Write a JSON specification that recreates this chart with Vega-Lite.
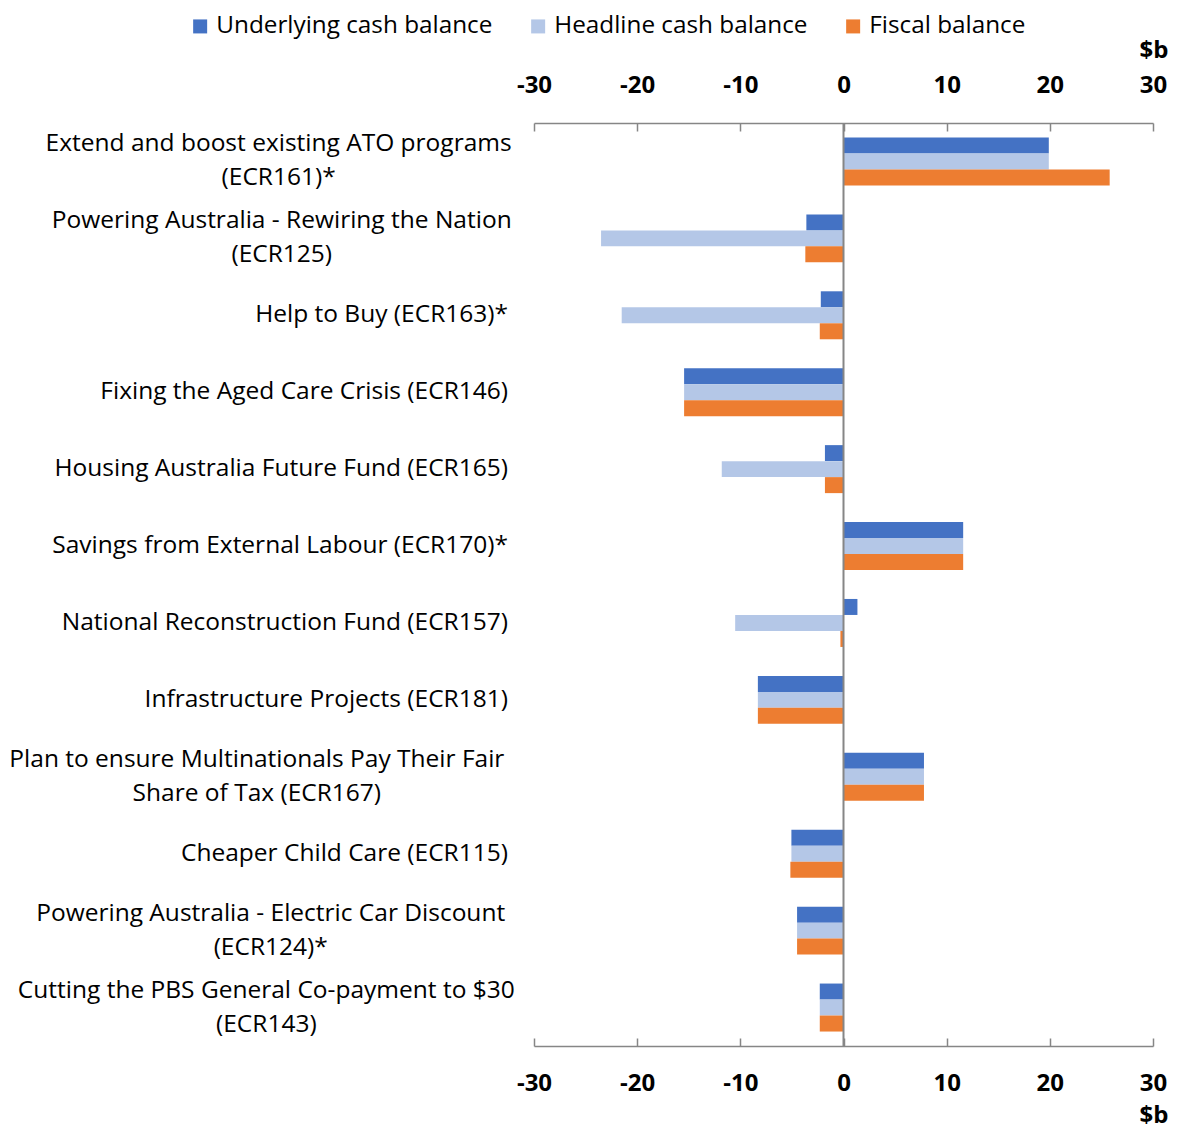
{
  "$schema": "https://vega.github.io/schema/vega-lite/v6.json",
  "width": 619,
  "height": 923,
  "autosize": {"type": "none"},
  "padding": {"left": 534, "top": 123, "right": 24, "bottom": 82},
  "config": {"font": "Open Sans", "view": {"stroke": null}},
  "data": {
    "values": [
      {"measure": "Extend and boost existing ATO programs|(ECR161)*", "series": "Underlying cash balance", "value": 19.9},
      {"measure": "Extend and boost existing ATO programs|(ECR161)*", "series": "Headline cash balance", "value": 19.9},
      {"measure": "Extend and boost existing ATO programs|(ECR161)*", "series": "Fiscal balance", "value": 25.8},
      {"measure": "Powering Australia - Rewiring the Nation|(ECR125)", "series": "Underlying cash balance", "value": -3.6},
      {"measure": "Powering Australia - Rewiring the Nation|(ECR125)", "series": "Headline cash balance", "value": -23.5},
      {"measure": "Powering Australia - Rewiring the Nation|(ECR125)", "series": "Fiscal balance", "value": -3.7},
      {"measure": "Help to Buy (ECR163)*", "series": "Underlying cash balance", "value": -2.2},
      {"measure": "Help to Buy (ECR163)*", "series": "Headline cash balance", "value": -21.5},
      {"measure": "Help to Buy (ECR163)*", "series": "Fiscal balance", "value": -2.3},
      {"measure": "Fixing the Aged Care Crisis (ECR146)", "series": "Underlying cash balance", "value": -15.45},
      {"measure": "Fixing the Aged Care Crisis (ECR146)", "series": "Headline cash balance", "value": -15.45},
      {"measure": "Fixing the Aged Care Crisis (ECR146)", "series": "Fiscal balance", "value": -15.45},
      {"measure": "Housing Australia Future Fund (ECR165)", "series": "Underlying cash balance", "value": -1.8},
      {"measure": "Housing Australia Future Fund (ECR165)", "series": "Headline cash balance", "value": -11.8},
      {"measure": "Housing Australia Future Fund (ECR165)", "series": "Fiscal balance", "value": -1.8},
      {"measure": "Savings from External Labour (ECR170)*", "series": "Underlying cash balance", "value": 11.6},
      {"measure": "Savings from External Labour (ECR170)*", "series": "Headline cash balance", "value": 11.6},
      {"measure": "Savings from External Labour (ECR170)*", "series": "Fiscal balance", "value": 11.6},
      {"measure": "National Reconstruction Fund (ECR157)", "series": "Underlying cash balance", "value": 1.35},
      {"measure": "National Reconstruction Fund (ECR157)", "series": "Headline cash balance", "value": -10.5},
      {"measure": "National Reconstruction Fund (ECR157)", "series": "Fiscal balance", "value": -0.3},
      {"measure": "Infrastructure Projects (ECR181)", "series": "Underlying cash balance", "value": -8.3},
      {"measure": "Infrastructure Projects (ECR181)", "series": "Headline cash balance", "value": -8.3},
      {"measure": "Infrastructure Projects (ECR181)", "series": "Fiscal balance", "value": -8.3},
      {"measure": "Plan to ensure Multinationals Pay Their Fair|Share of Tax (ECR167)", "series": "Underlying cash balance", "value": 7.8},
      {"measure": "Plan to ensure Multinationals Pay Their Fair|Share of Tax (ECR167)", "series": "Headline cash balance", "value": 7.8},
      {"measure": "Plan to ensure Multinationals Pay Their Fair|Share of Tax (ECR167)", "series": "Fiscal balance", "value": 7.8},
      {"measure": "Cheaper Child Care (ECR115)", "series": "Underlying cash balance", "value": -5.05},
      {"measure": "Cheaper Child Care (ECR115)", "series": "Headline cash balance", "value": -5.05},
      {"measure": "Cheaper Child Care (ECR115)", "series": "Fiscal balance", "value": -5.15},
      {"measure": "Powering Australia - Electric Car Discount|(ECR124)*", "series": "Underlying cash balance", "value": -4.5},
      {"measure": "Powering Australia - Electric Car Discount|(ECR124)*", "series": "Headline cash balance", "value": -4.5},
      {"measure": "Powering Australia - Electric Car Discount|(ECR124)*", "series": "Fiscal balance", "value": -4.5},
      {"measure": "Cutting the PBS General Co-payment to $30|(ECR143)", "series": "Underlying cash balance", "value": -2.3},
      {"measure": "Cutting the PBS General Co-payment to $30|(ECR143)", "series": "Headline cash balance", "value": -2.3},
      {"measure": "Cutting the PBS General Co-payment to $30|(ECR143)", "series": "Fiscal balance", "value": -2.3}
    ]
  },
  "layer": [
    {
      "mark": {"type": "bar"},
      "encoding": {
        "y": {
          "field": "measure",
          "type": "nominal",
          "sort": null,
          "scale": {"paddingInner": 0.376, "paddingOuter": 0.188},
          "axis": null
        },
        "yOffset": {
          "field": "series",
          "type": "nominal",
          "sort": ["Underlying cash balance", "Headline cash balance", "Fiscal balance"],
          "scale": {"paddingInner": 0, "paddingOuter": 0}
        },
        "x": {
          "field": "value",
          "type": "quantitative",
          "scale": {"domain": [-30, 30], "nice": false},
          "axis": {
            "orient": "top",
            "values": [-30, -20, -10, 0, 10, 20, 30],
            "labelExpr": "toString(datum.value)",
            "grid": false,
            "domainColor": "#868686",
            "domainWidth": 1.5,
            "tickColor": "#868686",
            "tickWidth": 1.5,
            "tickSize": -8,
            "labelFlush": false,
            "labelOverlap": false,
            "labelPadding": 46,
            "labelBaseline": "middle",
            "labelFontSize": 24,
            "labelFontWeight": "bold",
            "labelColor": "#000000",
            "title": "$b",
            "titleFontSize": 24,
            "titleFontWeight": "bold",
            "titleColor": "#000000",
            "titleAnchor": "end",
            "titleAlign": "right",
            "titleBaseline": "middle",
            "titleX": 634,
            "titleY": -73
          }
        },
        "color": {
          "field": "series",
          "type": "nominal",
          "scale": {
            "domain": ["Underlying cash balance", "Headline cash balance", "Fiscal balance"],
            "range": ["#4472C4", "#B4C7E7", "#ED7D31"]
          },
          "legend": {
            "title": null,
            "orient": "none",
            "direction": "horizontal",
            "legendX": -346,
            "legendY": -109,
            "symbolType": "square",
            "symbolSize": 196,
            "symbolStrokeWidth": 0,
            "symbolOpacity": 1,
            "labelFontSize": 24.3,
            "labelColor": "#000000",
            "labelOffset": 4,
            "labelLimit": 400,
            "columnPadding": 33
          }
        }
      }
    },
    {
      "transform": [{"filter": "datum.series === 'Underlying cash balance'"}],
      "mark": {
        "type": "text",
        "fontSize": 24.5,
        "color": "#000000",
        "baseline": "middle",
        "lineBreak": "|",
        "lineHeight": 34,
        "align": {"expr": "indexof(datum.measure, '|') >= 0 ? 'center' : 'right'"},
        "dx": {"expr": "indexof(datum.measure, '|') >= 0 ? -26 - 6.93 * length(split(datum.measure, '|')[0]) + 2.83 * length(replace(split(datum.measure, '|')[0], regexp('[^ilItfrj -]', 'g'), '')) : -26"},
        "dy": {"expr": "indexof(datum.measure, '|') >= 0 ? -17 : 0"}
      },
      "encoding": {
        "y": {"field": "measure", "type": "nominal", "sort": null, "axis": null},
        "x": {"datum": -30, "type": "quantitative", "axis": null},
        "text": {"field": "measure"}
      }
    },
    {
      "data": {"values": [{"zero": 0}]},
      "mark": {"type": "rule", "color": "#868686", "strokeWidth": 2},
      "encoding": {
        "x": {
          "field": "zero",
          "type": "quantitative",
          "axis": {
            "orient": "bottom",
            "values": [-30, -20, -10, 0, 10, 20, 30],
            "labelExpr": "toString(datum.value)",
            "grid": false,
            "domainColor": "#868686",
            "domainWidth": 1.5,
            "tickColor": "#868686",
            "tickWidth": 1.5,
            "tickSize": -8,
            "labelFlush": false,
            "labelOverlap": false,
            "labelPadding": 45,
            "labelBaseline": "middle",
            "labelFontSize": 24,
            "labelFontWeight": "bold",
            "labelColor": "#000000",
            "title": "$b",
            "titleFontSize": 24,
            "titleFontWeight": "bold",
            "titleColor": "#000000",
            "titleAnchor": "end",
            "titleAlign": "right",
            "titleBaseline": "middle",
            "titleX": 634,
            "titleY": 69
          }
        }
      }
    }
  ],
  "resolve": {"axis": {"x": "independent"}}
}
